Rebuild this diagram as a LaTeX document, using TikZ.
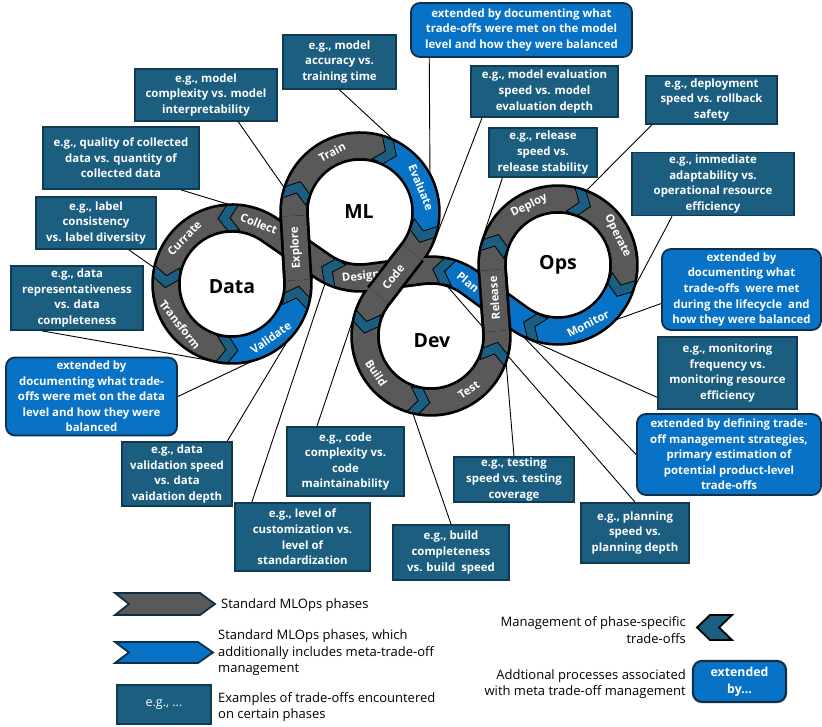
\documentclass[tikz,border=0pt]{standalone}
\usepackage{fontspec}
\setmainfont{Open Sans}
\usetikzlibrary{calc}

\definecolor{phasegray}{HTML}{595959}
\definecolor{metablue}{HTML}{0872C6}
\definecolor{tealbox}{HTML}{1B5E80}
\definecolor{tealedge}{HTML}{0F3A52}
\definecolor{navyedge}{HTML}{10304A}

\tikzset{
  exbox/.style={draw=tealedge, line width=1.8pt, fill=tealbox, text=white,
    font=\bfseries\fontsize{11.4}{15.6}\selectfont, align=center, inner sep=0pt},
  metabox/.style={draw=navyedge, line width=1.8pt, fill=metablue, rounded corners=9pt,
    text=white, font=\bfseries\fontsize{11.4}{15.6}\selectfont, align=center, inner sep=0pt},
  link/.style={draw=black, line width=0.9pt},
  bandbase/.style={draw=phasegray, line width=24pt, line join=round,
    preaction={draw=black, line width=29.5pt, line join=round}},
  bandblue/.style={draw=metablue, line width=24pt},
  chevmark/.style={fill=tealbox, draw=black, line width=0.8pt, line join=miter},
  phaselabel/.style={text=white, font=\bfseries\fontsize{11.3}{12}\selectfont, inner sep=0pt},
  ringlabel/.style={font=\bfseries\fontsize{19.5}{20}\selectfont, inner sep=0pt},
  legtext/.style={font=\fontsize{13}{16.4}\selectfont, inner sep=0pt, align=left, anchor=west},
  legshape/.style={draw=navyedge, line width=1.8pt, line join=miter},
}

% chevron marker at the end of a phase: centre, angle, direction (+1 ccw, -1 cw)
\newcommand{\chevat}[3]{%
  \draw[chevmark, shift={(#1)}, rotate=#2]
    (78.5,{#3*1.5}) -- (66,{#3*10.5}) -- (53.5,{#3*1.5}) -- (53.5,{#3*(-10.5)})
    -- (66,{#3*(-1.5)}) -- (78.5,{#3*(-10.5)}) -- cycle;}

\begin{document}
\begin{tikzpicture}[x=1pt,y=1pt]
\useasboundingbox (0,0) rectangle (822,727);
\fill[white] (0,0) rectangle (822,727);

% ring centres
\coordinate (cD) at (232,443);
\coordinate (cM) at (360,515);
\coordinate (cV) at (431,391);
\coordinate (cO) at (558,462);

% ---------------- example and meta boxes ----------------
\node[exbox, minimum width=113pt, minimum height=54pt] (b1) at (339.5,665) {e.g., model\\accuracy vs.\\training time};
\node[exbox, minimum width=142pt, minimum height=52pt] (b2) at (206,632) {e.g., model\\complexity vs. model\\interpretability};
\node[exbox, minimum width=156pt, minimum height=62pt] (b3) at (121,569) {e.g., quality of collected\\data vs. quantity of\\collected data};
\node[exbox, minimum width=120pt, minimum height=52pt] (b4) at (96,504) {e.g., label\\consistency\\vs. label diversity};
\node[exbox, minimum width=132pt, minimum height=64pt] (b5) at (77,429) {e.g., data\\representativeness\\vs. data\\completeness};
\node[metabox, minimum width=171pt, minimum height=78pt] (b6) at (91.5,330.5) {extended by\\documenting what trade-\\offs were met on the data\\level and how they were\\balanced};
\node[exbox, minimum width=110pt, minimum height=64pt] (b7) at (177,253) {e.g., data\\validation speed\\vs. data\\vaidation depth};
\node[exbox, minimum width=135pt, minimum height=68pt] (b8) at (302.5,190) {e.g., level of\\customization vs.\\level of\\standardization};
\node[exbox, minimum width=117pt, minimum height=69pt] (b9) at (345.5,265.5) {e.g., code\\complexity vs.\\code\\maintainability};
\node[exbox, minimum width=116pt, minimum height=55pt] (b10) at (451,174.5) {e.g., build\\completeness\\vs. build\ \ speed};
\node[exbox, minimum width=120pt, minimum height=45pt] (b11) at (514,247.5) {e.g., testing\\speed vs. testing\\coverage};
\node[exbox, minimum width=108pt, minimum height=60pt] (b12) at (635,194) {e.g., planning\\speed vs.\\planning depth};
\node[metabox, minimum width=184pt, minimum height=81pt] (b13) at (729,272.5) {extended by defining trade-\\off management strategies,\\primary estimation of\\potential product-level\\trade-offs};
\node[exbox, minimum width=139pt, minimum height=72pt] (b14) at (727.5,354) {e.g., monitoring\\frequency vs.\\monitoring resource\\efficiency};
\node[metabox, minimum width=159pt, minimum height=81pt] (b15) at (741.5,437.5) {extended by\\documenting what\\trade-offs\ \ were met\\during the lifecycle\ \ and\\how they were balanced};
\node[exbox, minimum width=162pt, minimum height=63pt] (b16) at (713,543) {e.g., immediate\\adaptability vs.\\operational resource\\efficiency};
\node[exbox, minimum width=131pt, minimum height=48pt] (b17) at (711.5,627) {e.g., deployment\\speed vs. rollback\\safety};
\node[exbox, minimum width=108pt, minimum height=49pt] (b18) at (543,574.5) {e.g., release\\speed vs.\\release stability};
\node[exbox, minimum width=147pt, minimum height=51pt] (b19) at (544.5,635.5) {e.g., model evaluation\\speed vs. model\\evaluation depth};
\node[metabox, minimum width=221pt, minimum height=54pt] (b20) at (521.5,697) {extended by documenting what\\trade-offs were met on the model\\level and how they were balanced};

% ---------------- connector end points on the rings ----------------
\coordinate (p1) at ($(cM)+(66:80)$);
\coordinate (p2) at ($(cM)+(162:80)$);
\coordinate (p3) at ($(cD)+(93:80)$);
\coordinate (p4) at ($(cD)+(168:80)$);
\coordinate (p5) at ($(cD)+(252:80)$);
\coordinate (p6) at ($(cD)+(284:80)$);
\coordinate (p7) at ($(cD)+(-15:80)$);
\coordinate (p8) at ($(cM)+(-116:80)$);
\coordinate (p9) at ($(cV)+(169:80)$);
\coordinate (p10) at ($(cV)+(257:80)$);
\coordinate (p11) at ($(cV)+(340:80)$);
\coordinate (p12) at ($(cV)+(73:53)$);
\coordinate (p13) at ($(cO)+(-115:80)$);
\coordinate (p14) at ($(cO)+(-112:80)$);
\coordinate (p15) at ($(cO)+(-43:80)$);
\coordinate (p16) at ($(cO)+(-15:80)$);
\coordinate (p17) at ($(cO)+(69:80)$);
\coordinate (p18) at ($(cO)+(161:80)$);
\coordinate (p19) at ($(cM)+(-18:80)$);
\coordinate (p20) at ($(cM)+(29:80)$);

% ---------------- connectors (behind the rings) ----------------
\draw[link] (b1.south) -- (p1);
\draw[link] ($(b2.south west)!0.725!(b2.south east)$) -- (p2);
\draw[link] ($(b3.south west)!0.88!(b3.south east)$) -- (p3);
\draw[link] ($(b4.south west)!0.77!(b4.south east)$) -- (p4);
\draw[link] ($(b5.south west)!0.24!(b5.south east)$) -- (p5);
\draw[link] (b6.east) -- (p6);
\draw[link] ($(b7.north west)!0.95!(b7.north east)$) -- (p7);
\draw[link] ($(b8.north west)!0.13!(b8.north east)$) -- (p8);
\draw[link] ($(b9.north west)!0.26!(b9.north east)$) -- (p9);
\draw[link] (b10.north) -- (p10);
\draw[link] (b11.north) -- (p11);
\draw[link] (b12.north) -- (p12);
\draw[link] (b13.west) -- (p13);
\draw[link] ($(b14.north west)!0.83!(b14.south west)$) -- (p14);
\draw[link] ($(b15.north west)!0.67!(b15.south west)$) -- (p15);
\draw[link] ($(b16.south west)!0.25!(b16.south east)$) -- (p16);
\draw[link] ($(b17.south west)!0.05!(b17.south east)$) -- (p17);
\draw[link] ($(b18.south west)!0.13!(b18.south east)$) -- (p18);
\draw[link] ($(b19.south west)!0.08!(b19.south east)$) -- (p19);
\draw[link] ($(b20.south west)!0.086!(b20.south east)$) -- (p20);

% ---------------- the lifecycle band ----------------
\draw[bandbase]
  ($(cD)+(55.36:66)$) arc[start angle=55.36, end angle=363.36, radius=66]
  -- ($(cM)+(183.36:66)$) arc[start angle=183.36, end angle=-37.71, radius=66]
  -- ($(cV)+(142.29:66)$) arc[start angle=142.29, end angle=364.33, radius=66]
  -- ($(cO)+(184.33:66)$) arc[start angle=184.33, end angle=-125.91, radius=66]
  -- ($(cV)+(54.09:66)$) arc[start angle=54.09, end angle=97.29, radius=66]
  -- ($(cM)+(-82.71:66)$) arc[start angle=-82.71, end angle=-124.64, radius=66]
  -- cycle;

% phases with meta-trade-off management
\draw[bandblue] ($(cD)+(266:66)$) arc[start angle=266, end angle=349, radius=66];
\draw[bandblue] ($(cM)+(66:66)$) arc[start angle=66, end angle=-18, radius=66];
\draw[bandblue] ($(cO)+(-19:66)$) arc[start angle=-19, end angle=-112, radius=66];
\draw[bandblue] ($(cO)+(-112:66)$) arc[start angle=-112, end angle=-125.91, radius=66]
  -- ($(cV)+(54.09:66)$) arc[start angle=54.09, end angle=79.4, radius=66];

% phase-specific trade-off management markers
\chevat{cD}{93}{1}
\chevat{cD}{174}{1}
\chevat{cD}{266}{1}
\chevat{cD}{349}{1}
\chevat{cM}{162}{-1}
\chevat{cM}{66}{-1}
\chevat{cM}{-18}{-1}
\chevat{cV}{168.5}{1}
\chevat{cV}{260}{1}
\chevat{cV}{345.5}{1}
\chevat{cO}{162}{-1}
\chevat{cO}{70}{-1}
\chevat{cO}{-19}{-1}
\chevat{cO}{-112}{-1}
\chevat{cV}{79.4}{1}
\chevat{cM}{-116}{-1}

% phase names on arcs
\node[phaselabel, rotate=-22] (tCollect) at ($(cD)+(66:66)$) {Collect};
\node[phaselabel, rotate=46] (tCurrate) at ($(cD)+(136:66)$) {Currate};
\node[phaselabel, rotate=-52] (tTransform) at ($(cD)+(218:66)$) {Transform};
\node[phaselabel, rotate=35] (tValidate) at ($(cD)+(306:66)$) {Validate};
\node[phaselabel, rotate=27] (tTrain) at ($(cM)+(115:66)$) {Train};
\node[phaselabel, rotate=-68] (tEvaluate) at ($(cM)+(22:66)$) {Evaluate};
\node[phaselabel, rotate=6] (tDesign) at (361,450) {Design};
\node[phaselabel, rotate=-56] (tBuild) at ($(cV)+(214:66)$) {Build};
\node[phaselabel, rotate=35] (tTest) at ($(cV)+(305:66)$) {Test};
\node[phaselabel, rotate=26] (tDeploy) at ($(cO)+(116:66)$) {Deploy};
\node[phaselabel, rotate=-64] (tOperate) at ($(cO)+(26:66)$) {Operate};
\node[phaselabel, rotate=27] (tMonitor) at ($(cO)+(-63:66)$) {Monitor};
\node[phaselabel, rotate=-40] (tPlan) at (468,445) {Plan};

% crossings that pass over the band
\draw[draw=phasegray, line width=24pt, preaction={draw=black, line width=29.5pt}]
  ($(cD)+(3.36:66)$) -- ($(cM)+(183.36:66)$);
\draw[draw=phasegray, line width=24pt, preaction={draw=black, line width=29.5pt}]
  ($(cM)+(-37.71:66)$) -- ($(cV)+(142.29:66)$);
\draw[draw=phasegray, line width=24pt, preaction={draw=black, line width=29.5pt}]
  ($(cV)+(4.33:66)$) -- ($(cO)+(184.33:66)$);
\node[phaselabel, rotate=93.4] (tExplore) at (296,479) {Explore};
\node[phaselabel, rotate=52.3] (tCode) at (393.2,450) {Code};
\node[phaselabel, rotate=94.3] (tRelease) at (494.3,429) {Release};

% ring names
\node[ringlabel] (nData) at (232,440) {Data};
\node[ringlabel] (nML) at (359,515) {ML};
\node[ringlabel] (nDev) at (432,386) {Dev};
\node[ringlabel] (nOps) at (558,462) {Ops};

% ---------------- legend ----------------
\draw[legshape, fill=phasegray] (115,134) -- (200,134) -- (215,123) -- (200,112) -- (115,112) -- (129,123) -- cycle;
\node[legtext] (lg1) at (221,122) {Standard MLOps phases};
\draw[legshape, fill=metablue] (115,85) -- (198,85) -- (213,74.5) -- (198,64) -- (115,64) -- (129,74.5) -- cycle;
\node[legtext] (lg2) at (218,74) {Standard MLOps phases, which\\additionally includes meta-trade-off\\management};
\node[draw=tealedge, line width=1.8pt, fill=tealbox, text=white, minimum width=94pt, minimum height=39pt,
  inner sep=0pt, font=\fontsize{12.5}{15}\selectfont] (lgbox) at (164,22.5) {e.g., ...};
\node[legtext] (lg3) at (218,20) {Examples of trade-offs encountered\\on certain phases};
\node[legtext, anchor=east, align=right] (lg4) at (686,97) {Management of phase-specific\\trade-offs};
\draw[legshape, draw=black, fill=tealbox] (732,112) -- (710,112) -- (697,99.5) -- (710,87) -- (732,87) -- (719,99.5) -- cycle;
\node[legtext, anchor=east, align=right] (lg5) at (686,43) {Addtional processes associated\\with meta trade-off management};
\node[metabox, line width=2.2pt, minimum width=93pt, minimum height=41pt, font=\bfseries\fontsize{12.3}{16.8}\selectfont] (lgmeta) at (739.5,45.5) {extended\\by...};

\end{tikzpicture}
\end{document}
